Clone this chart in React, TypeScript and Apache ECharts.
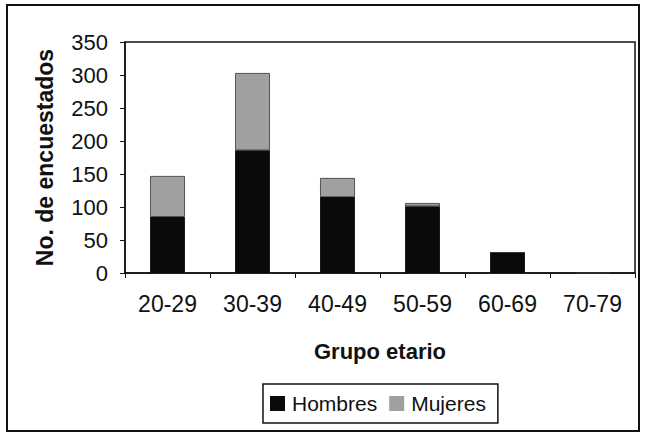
import React, { useEffect, useRef } from "react";
import * as echarts from "echarts";

const categories = ["20-29", "30-39", "40-49", "50-59", "60-69", "70-79"];
const hombres = [85, 186, 115, 101, 31, 0];
const mujeres = [62, 117, 29, 5, 0, 0];
const yTicks = { min: 0, max: 350, interval: 50 };
const xTitle = "Grupo etario";
const yTitle = "No. de encuestados";
const seriesNames = ["Hombres", "Mujeres"];

const FONT = "'Liberation Sans', Arial, Helvetica, sans-serif";

export default function App() {
  const ref = useRef<HTMLDivElement>(null);
  useEffect(() => {
    document.body.style.margin = "0";
    if (!ref.current) return;
    const chart = echarts.init(ref.current, undefined, { renderer: "svg" });
    chart.setOption({
      animation: false,
      backgroundColor: "#ffffff",
      textStyle: { fontFamily: FONT, color: "#111" },
      grid: {
        left: 125,
        right: 10,
        top: 42,
        bottom: 163,
        show: true,
        borderColor: "#111",
        borderWidth: 1.5,
      },
      graphic: [
        {
          type: "rect",
          shape: { x: 7, y: 5, width: 632, height: 426 },
          style: { fill: "none", stroke: "#111", lineWidth: 2 },
          silent: true,
        },
      ],
      legend: {
        data: seriesNames,
        left: 263,
        top: 384,
        itemWidth: 15,
        itemHeight: 15,
        itemGap: 12,
        icon: "rect",
        padding: [9, 12, 9, 7],
        borderColor: "#111",
        borderWidth: 1.5,
        itemStyle: { borderWidth: 0 },
        textStyle: { fontFamily: FONT, fontSize: 21, color: "#111", padding: [0, 0, 0, 2] },
      },
      xAxis: {
        type: "category",
        data: categories,
        boundaryGap: true,
        axisLine: { show: true, lineStyle: { color: "#111", width: 1.5 } },
        axisTick: { show: true, inside: false, length: 5, lineStyle: { color: "#111" } },
        axisLabel: { fontFamily: FONT, fontSize: 23, color: "#111", margin: 19 },
        name: xTitle,
        nameLocation: "middle",
        nameGap: 67,
        nameTextStyle: { fontFamily: FONT, fontSize: 22, fontWeight: "bold", color: "#111" },
      },
      yAxis: {
        type: "value",
        min: yTicks.min,
        max: yTicks.max,
        interval: yTicks.interval,
        splitLine: { show: false },
        axisLine: { show: true, lineStyle: { color: "#111", width: 1.5 } },
        axisTick: { show: true, inside: false, length: 5, lineStyle: { color: "#111" } },
        axisLabel: { fontFamily: FONT, fontSize: 22, color: "#111", margin: 17 },
        name: yTitle,
        nameLocation: "middle",
        nameGap: 69,
        nameTextStyle: { fontFamily: FONT, fontSize: 23, fontWeight: "bold", color: "#111" },
      },
      series: [
        {
          name: seriesNames[0],
          type: "bar",
          stack: "total",
          data: hombres,
          barWidth: "41%",
          itemStyle: { color: "#0a0a0a" },
        },
        {
          name: seriesNames[1],
          type: "bar",
          stack: "total",
          data: mujeres,
          barWidth: "41%",
          itemStyle: { color: "#a0a0a0", borderColor: "#333", borderWidth: 0.8 },
        },
      ],
    });
    return () => chart.dispose();
  }, []);
  return <div ref={ref} style={{ width: 645, height: 436 }} />;
}
